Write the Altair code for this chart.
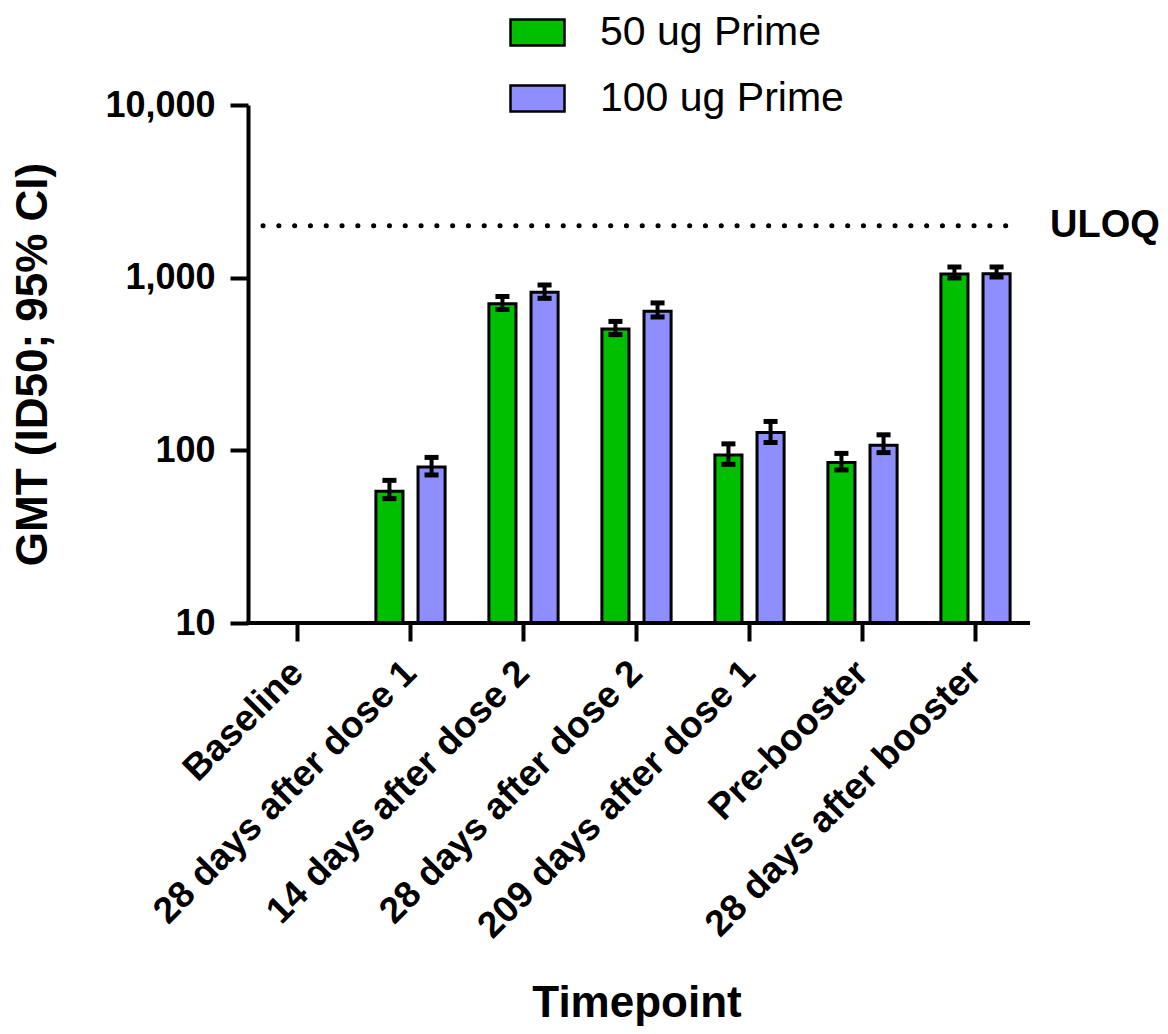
import altair as alt
import pandas as pd

categories = [
    "Baseline",
    "28 days after dose 1",
    "14 days after dose 2",
    "28 days after dose 2",
    "209 days after dose 1",
    "Pre-booster",
    "28 days after booster",
]
groups = ["50 ug Prime", "100 ug Prime"]
colors = ["#00BE00", "#8E8EFF"]

gmt_50 = [None, 58, 707, 504, 94, 85, 1050]
lo_50 = [None, 52.5, 653, 468, 83, 77, 996]
hi_50 = [None, 67, 779, 558, 109, 96, 1153]

gmt_100 = [None, 80, 822, 638, 127, 107, 1055]
lo_100 = [None, 72, 759, 592, 111, 97, 1009]
hi_100 = [None, 91, 907, 714, 147, 123, 1153]

y_ticks = [10, 100, 1000, 10000]
uloq = 2000

rows = []
for g, gm, lo, hi in [(groups[0], gmt_50, lo_50, hi_50), (groups[1], gmt_100, lo_100, hi_100)]:
    for c, v, l, h in zip(categories, gm, lo, hi):
        if v is None:
            continue
        rows.append(dict(timepoint=c, group=g, gmt=v, lo=l, hi=h))
df = pd.DataFrame(rows)

caps = pd.concat([
    df[["timepoint", "group"]].assign(val=df["lo"]),
    df[["timepoint", "group"]].assign(val=df["hi"]),
])

FONT = "Liberation Sans"
W, H = 780, 518
X_TITLE = "Timepoint"
Y_TITLE = "GMT (ID50; 95% CI)"

x_scale = alt.Scale(domain=categories, range=[-7, 784], paddingInner=0, paddingOuter=0)
off_scale = alt.Scale(domain=groups, paddingInner=0.357, paddingOuter=0.52)
y_scale = alt.Scale(type="log", domain=[10, 10000])

x_axis = alt.Axis(
    labelAngle=-45, labelAlign="right", labelBaseline="middle",
    labelFontSize=37, labelFont=FONT, labelFontWeight="bold", labelColor="black",
    labelPadding=26, tickSize=18, tickWidth=4, tickColor="black",
    domain=False, titleFont=FONT, titleFontSize=44, titleFontWeight="bold",
    titleColor="black", titleBaseline="alphabetic", titleY=393,
    labelLimit=600, grid=False, labelOverlap=False,
)
y_axis = alt.Axis(
    values=y_ticks, format=",d", labelFontSize=36, labelFont=FONT,
    labelFontWeight="bold", labelColor="black", labelPadding=15,
    tickSize=18, tickWidth=4, tickColor="black", domainWidth=4,
    domainColor="black", grid=False, titleFont=FONT, titleFontSize=44,
    titleFontWeight="bold", titleColor="black", titlePadding=49,
)


def X():
    return alt.X("timepoint:N", scale=x_scale, axis=x_axis, title=X_TITLE)


def Y(field):
    return alt.Y(field, scale=y_scale, axis=y_axis, title=Y_TITLE)


base = alt.Chart(df)

bars = base.mark_bar(stroke="black", strokeWidth=3).encode(
    x=X(),
    xOffset=alt.XOffset("group:N", scale=off_scale),
    y=Y("gmt:Q"),
    y2=alt.datum(10),
    color=alt.Color(
        "group:N",
        scale=alt.Scale(domain=groups, range=colors),
        legend=alt.Legend(
            title=None, orient="none", legendX=261, legendY=-101,
            symbolType="M-1,-0.48H1V0.48H-1Z", symbolSize=2916,
            symbolStrokeColor="black", symbolStrokeWidth=2.5,
            symbolOpacity=1, labelFont=FONT, labelFontSize=41,
            labelColor="black", labelOffset=34, labelLimit=500,
            rowPadding=17, padding=0,
        ),
    ),
)

whisk = base.mark_rule(strokeWidth=4, color="black").encode(
    x=X(),
    xOffset=alt.XOffset("group:N", scale=off_scale),
    y=Y("lo:Q"),
    y2="hi:Q",
)

capmarks = alt.Chart(caps).mark_tick(
    orient="horizontal", size=14, thickness=5, color="black", opacity=1
).encode(
    x=X(),
    xOffset=alt.XOffset("group:N", scale=off_scale),
    y=Y("val:Q"),
)

xline = alt.Chart(pd.DataFrame({"v": [10]})).mark_rule(
    strokeWidth=4, color="black", strokeCap="square"
).encode(
    y=Y("v:Q"),
    x=alt.value(0), x2=alt.value(W),
)

uloq_line = alt.Chart(pd.DataFrame({"v": [uloq]})).mark_rule(
    strokeWidth=5, color="black", strokeCap="round", strokeDash=[0.1, 15.7]
).encode(
    y=Y("v:Q"),
    x=alt.value(15), x2=alt.value(764),
)

uloq_text = alt.Chart(pd.DataFrame({"v": [uloq], "t": ["ULOQ"]})).mark_text(
    align="left", baseline="middle", font=FONT, fontSize=38,
    fontWeight="bold", color="black",
).encode(
    y=Y("v:Q"),
    x=alt.value(802),
    text="t:N",
)

chart = alt.layer(bars, whisk, capmarks, xline, uloq_line, uloq_text).properties(
    width=W, height=H,
    autosize=alt.AutoSizeParams(type="none"),
    padding={"left": 240, "top": 97, "right": 132, "bottom": 405},
).configure(background="white").configure_view(strokeWidth=0, stroke=None)

chart.save("out.html", embed_options={"renderer": "svg", "actions": False})
